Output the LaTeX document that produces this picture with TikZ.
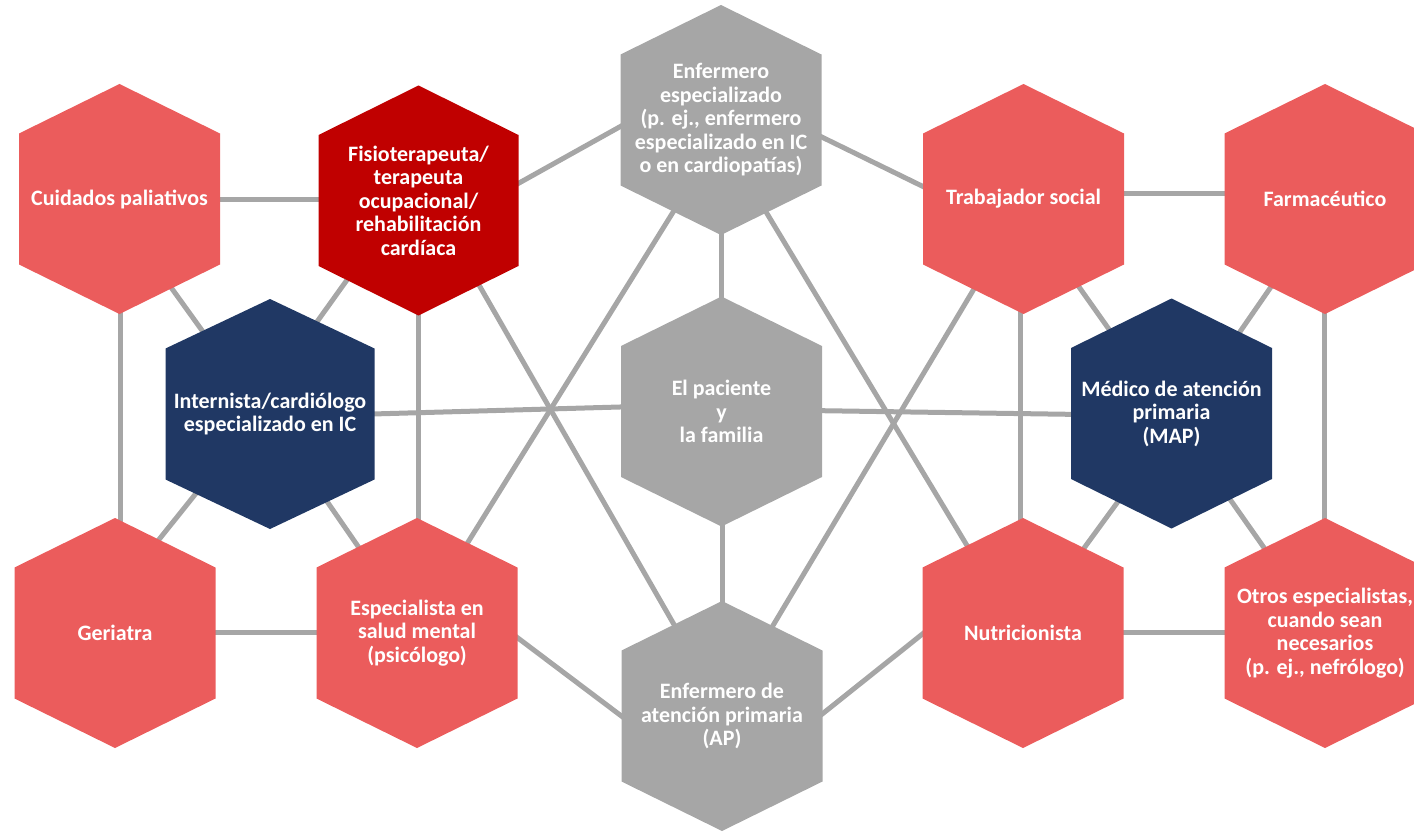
\documentclass[tikz,border=0pt]{standalone}
\usepackage{fontspec}
\setmainfont{Carlito}
\usetikzlibrary{calc}
\pgfdeclarelayer{bg}
\pgfdeclarelayer{mid}
\pgfsetlayers{bg,mid,main}
\definecolor{coral}{HTML}{EB5C5C}
\definecolor{darkred}{HTML}{C00000}
\definecolor{navy}{HTML}{203864}
\definecolor{hexgray}{HTML}{A6A6A6}
\definecolor{linegray}{HTML}{A6A6A6}
\newcommand{\hexshape}[3]{%
  \fill[#2] ([shift={(0,-115)}]#1.center) -- ([shift={(#3,-65.5)}]#1.center)
    -- ([shift={(#3,65.5)}]#1.center) -- ([shift={(0,115)}]#1.center)
    -- ([shift={(-#3,65.5)}]#1.center) -- ([shift={(-#3,-65.5)}]#1.center) -- cycle;}
\begin{document}
\begin{tikzpicture}[x=1pt,y=-1pt,
  lbl/.style={text=white,align=center,inner sep=0pt,font=\bfseries\fontsize{22}{23.5}\selectfont},
  conn/.style={draw=linegray,line width=5pt}]
\useasboundingbox (0,0) rectangle (1414,832);
% labels
\node[lbl] (cuid) at (119.5,199) {Cuidados paliativos};
\node[lbl] (fisio) at (418.5,200.5) {Fisioterapeuta/\\terapeuta\\ocupacional/\\rehabilitación\\cardíaca};
\node[lbl] (enfe) at (721,120) {Enfermero\\especializado\\(p. ej., enfermero\\especializado en IC\\o en cardiopatías)};
\node[lbl] (trab) at (1023.5,199) {Trabajador social};
\node[lbl] (farm) at (1325,199) {Farmacéutico};
\node[lbl] (inter) at (270,414) {Internista/cardiólogo\\especializado en IC};
\node[lbl] (pac) at (721.5,411.5) {El paciente\\y\\la familia};
\node[lbl] (map) at (1171.5,413.5) {Médico de atención\\primaria\\(MAP)};
\node[lbl] (geri) at (115,633) {Geriatra};
\node[lbl] (espe) at (417,633) {Especialista en\\salud mental\\(psicólogo)};
\node[lbl] (enap) at (722,716) {Enfermero de\\atención primaria\\(AP)};
\node[lbl] (nutr) at (1023,633) {Nutricionista};
\node[lbl] (otros) at (1325,633) {Otros especialistas,\\cuando sean\\necesarios\\(p. ej., nefrólogo)};
% connectors
\begin{pgfonlayer}{bg}
\draw[conn] ([shift={(0,0.3)}]cuid.center) -- ([shift={(0,-1.2)}]fisio.center);
\draw[conn] ([shift={(61.5,4.3)}]fisio.center) -- ([shift={(-61,-15.6)}]enfe.center);
\draw[conn] ([shift={(69,1.5)}]enfe.center) -- ([shift={(-63.5,5.6)}]trab.center);
\draw[conn] ([shift={(0,-5.7)}]trab.center) -- ([shift={(0,-5.7)}]farm.center);
\draw[conn] ([shift={(1.2,0)}]cuid.center) -- ([shift={(5.7,0)}]geri.center);
\draw[conn] ([shift={(7.2,26.8)}]cuid.center) -- ([shift={(-38.3,-42.3)}]inter.center);
\draw[conn] ([shift={(-20.1,7.6)}]fisio.center) -- ([shift={(21.6,-56.7)}]inter.center);
\draw[conn] ([shift={(0.4,0)}]fisio.center) -- ([shift={(1.9,0)}]espe.center);
\draw[conn] ([shift={(41.5,51.4)}]fisio.center) -- ([shift={(-22,-46.2)}]enap.center);
\draw[conn] ([shift={(-40.4,80)}]enfe.center) -- ([shift={(27.5,-53)}]espe.center);
\draw[conn] (enfe.center) -- ([shift={(-0.5,0)}]pac.center);
\draw[conn] ([shift={(25.8,60)}]enfe.center) -- ([shift={(-23.2,-33)}]nutr.center);
\draw[conn] ([shift={(0,2.9)}]inter.center) -- ([shift={(-41.5,-6.2)}]pac.center);
\draw[conn] ([shift={(38.5,-1.7)}]pac.center) -- ([shift={(0,2.3)}]map.center);
\draw[conn] ([shift={(0.8,0)}]pac.center) -- ([shift={(0.3,0)}]enap.center);
\draw[conn] ([shift={(-26.7,20.3)}]inter.center) -- ([shift={(-5,-32.3)}]geri.center);
\draw[conn] ([shift={(13.3,24.2)}]inter.center) -- ([shift={(-13.7,-21.2)}]espe.center);
\draw[conn] ([shift={(0,-0.3)}]geri.center) -- ([shift={(0,-0.3)}]espe.center);
\draw[conn] ([shift={(53,-31.1)}]espe.center) -- ([shift={(-42,44.2)}]enap.center);
\draw[conn] ([shift={(48,39.7)}]enap.center) -- ([shift={(-53,-37)}]nutr.center);
\draw[conn] ([shift={(-26.3,51)}]trab.center) -- ([shift={(30.4,-56)}]enap.center);
\draw[conn] ([shift={(-3.2,0)}]trab.center) -- ([shift={(-2.7,0)}]nutr.center);
\draw[conn] ([shift={(14,29.3)}]trab.center) -- ([shift={(-34.9,-45.2)}]map.center);
\draw[conn] ([shift={(-10,24.2)}]farm.center) -- ([shift={(38.5,-38.4)}]map.center);
\draw[conn] ([shift={(-0.7,0)}]farm.center) -- ([shift={(-0.7,0)}]otros.center);
\draw[conn] ([shift={(-7.2,24.7)}]map.center) -- ([shift={(14.5,-21.2)}]nutr.center);
\draw[conn] ([shift={(12.8,20.7)}]map.center) -- ([shift={(-14.3,-18.8)}]otros.center);
\draw[conn] ([shift={(0,-0.7)}]nutr.center) -- ([shift={(0,-0.7)}]otros.center);
\end{pgfonlayer}
% hexagons
\begin{pgfonlayer}{mid}
\hexshape{cuid}{coral}{100.5}
\hexshape{fisio}{darkred}{100}
\hexshape{enfe}{hexgray}{100.5}
\hexshape{trab}{coral}{100.5}
\hexshape{farm}{coral}{100.5}
\hexshape{inter}{navy}{104.5}
\hexshape{pac}{hexgray}{100.5}
\hexshape{map}{navy}{100.5}
\hexshape{geri}{coral}{100.5}
\hexshape{espe}{coral}{100.5}
\hexshape{enap}{hexgray}{100.5}
\hexshape{nutr}{coral}{100.5}
\hexshape{otros}{coral}{100.5}
\end{pgfonlayer}
\end{tikzpicture}
\end{document}
